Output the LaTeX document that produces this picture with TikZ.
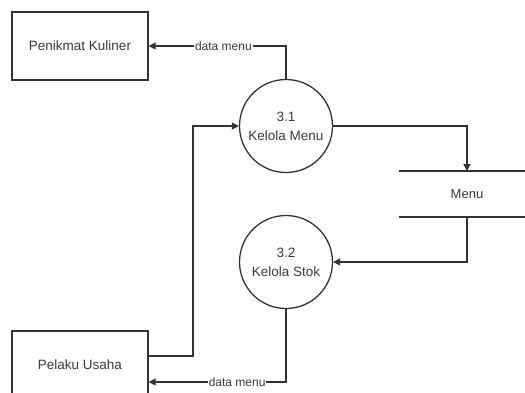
\documentclass[tikz,border=0pt]{standalone}
\usepackage{fontspec}
\setmainfont{Liberation Sans}
\usetikzlibrary{arrows.meta}
\definecolor{ink}{HTML}{333333}
\definecolor{txt}{HTML}{3A3A3A}
\begin{document}
\begin{tikzpicture}[x=1pt,y=-1pt,
  flow/.style={draw=ink,line width=1.3pt,-{Triangle[length=7pt,width=7pt]}},
  entity/.style={draw=ink,line width=1.3pt,minimum width=136pt,minimum height=68pt,
    inner sep=0pt,text=txt,font=\fontsize{13.5}{16}\selectfont},
  proc/.style={draw=ink,line width=1.3pt,circle,minimum size=93pt,inner sep=0pt,
    align=center,text=txt,font=\fontsize{13.5}{19}\selectfont},
  lbl/.style={fill=white,inner sep=1pt,text=txt,font=\fontsize{12}{14}\selectfont}]
\useasboundingbox (0,0) rectangle (525,392);
\clip (0,0) rectangle (525,392);
% external entities
\node[entity] (pk) at (80,46) {Penikmat Kuliner};
\node[entity] (pu) at (80,365) {Pelaku Usaha};
% processes
\node[proc] (p1) at (286,126) {3.1\\Kelola Menu};
\node[proc] (p2) at (286,262) {3.2\\Kelola Stok};
% data store
\coordinate (sTL) at (399,171);
\coordinate (sTR) at (530,171);
\coordinate (sBL) at (399,217);
\coordinate (sBR) at (530,217);
\draw[draw=ink,line width=1.3pt] (sTL) -- (sTR) (sBL) -- (sBR);
\node[text=txt,font=\fontsize{13}{16}\selectfont] (st) at (467,194) {Menu};
\coordinate (sTop) at (467,171);
\coordinate (sBot) at (467,217);
% flows
\draw[flow] (p1.north) |- node[lbl,pos=0.728] {data menu} (pk.east);
\draw[flow] (pu.east |- 0,356) -| (193,126) -- (p1.west);
\draw[flow] (p1.east) -| (sTop);
\draw[flow] (sBot) |- (p2.east);
\draw[flow] (p2.south) |- node[lbl,pos=0.678] {data menu} (pu.east |- 0,382);
\end{tikzpicture}
\end{document}
